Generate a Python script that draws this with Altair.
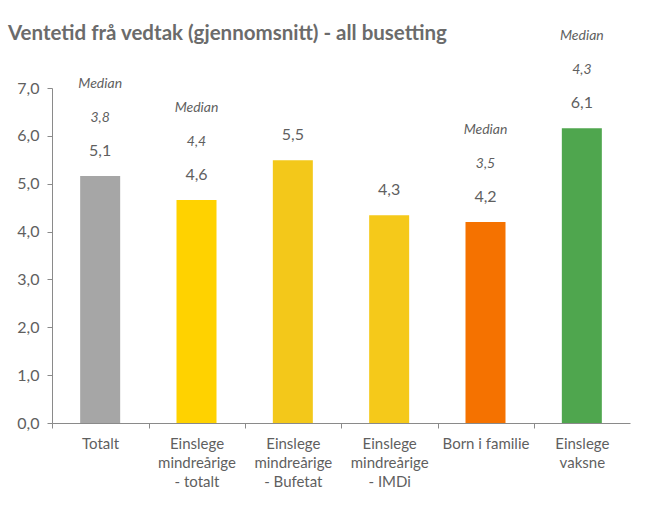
import altair as alt
import pandas as pd

title_text = "Ventetid frå vedtak (gjennomsnitt) - all busetting"
categories = ["Totalt", "Einslege|mindreårige|- totalt", "Einslege|mindreårige|- Bufetat",
              "Einslege|mindreårige|- IMDi", "Born i familie", "Einslege|vaksne"]
values = [5.16, 4.66, 5.49, 4.34, 4.2, 6.16]
value_labels = ["5,1", "4,6", "5,5", "4,3", "4,2", "6,1"]
median_labels = ["3,8", "4,4", "", "", "3,5", "4,3"]
colors = ["#a6a6a6", "#ffd200", "#f3c81a", "#f5c91a", "#f57200", "#4fa64e"]
y_ticks = [0, 1, 2, 3, 4, 5, 6, 7]

df = pd.DataFrame({
    "cat": categories,
    "value": values,
    "vlabel": value_labels,
    "median": median_labels,
    "color": colors,
})
df["mtitle"] = ["Median" if m else "" for m in median_labels]

FONT = "Lato"
TXT = "#5f5f5f"

x = alt.X("cat:N", sort=categories, title=None,
          scale=alt.Scale(paddingInner=0.0, paddingOuter=0.0),
          axis=alt.Axis(labelExpr="split(datum.label, '|')", labelAngle=0, grid=False,
                        labelFont=FONT, labelFontSize=15, labelColor=TXT,
                        labelLineHeight=19, labelPadding=8,
                        tickOffset=-48, labelOffset=48, tickSize=5, domainColor="#8a8a8a",
                        tickColor="#8a8a8a", labelBaseline="top"))
y = alt.Y("value:Q", title=None,
          scale=alt.Scale(domain=[0, 7], nice=False),
          axis=alt.Axis(values=y_ticks, grid=False,
                        labelExpr="replace(format(datum.value, '.1f'), '.', ',')",
                        labelFont=FONT, labelFontSize=16, labelColor=TXT,
                        labelPadding=8, tickSize=5, domainColor="#8a8a8a",
                        tickColor="#8a8a8a"))

base = alt.Chart(df)
bars = base.mark_bar(size=40).encode(
    x=x, y=y, color=alt.Color("color:N", scale=None))
vtext = base.mark_text(dy=-17, font=FONT, fontSize=16, color=TXT, baseline="bottom").encode(
    x=alt.X("cat:N", sort=categories), y="value:Q", text="vlabel:N")
mtext = base.mark_text(dy=-51, font=FONT, fontSize=14, fontStyle="italic", color=TXT,
                       baseline="bottom").encode(
    x=alt.X("cat:N", sort=categories), y="value:Q", text="median:N")
ttext = base.mark_text(dy=-85, font=FONT, fontSize=14, fontStyle="italic", color=TXT,
                       baseline="bottom").encode(
    x=alt.X("cat:N", sort=categories), y="value:Q", text="mtitle:N")

title = alt.Chart(pd.DataFrame({"t": [title_text]})).mark_text(
    font=FONT, fontSize=20.5, fontWeight="bold", color="#6b6b6b",
    align="left", baseline="alphabetic").encode(
    x=alt.value(-44), y=alt.value(-48), text="t:N")

chart = alt.layer(bars, vtext, mtext, ttext, title).properties(
    width=578, height=335,
    autosize=alt.AutoSizeParams(type="none"),
    padding={"left": 52, "top": 88, "right": 22, "bottom": 88},
).configure(background="white").configure_view(
    strokeWidth=0, stroke="transparent").configure_axis(grid=False)

chart.save("out.html", embed_options={"renderer": "svg", "actions": False})
